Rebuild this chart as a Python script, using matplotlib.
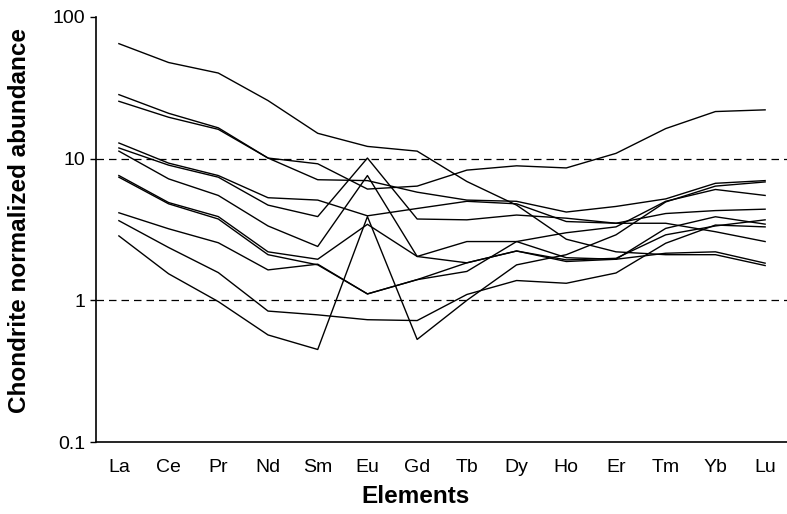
import numpy as np
import matplotlib
matplotlib.use("Agg")
import matplotlib.pyplot as plt

elements = ["La", "Ce", "Pr", "Nd", "Sm", "Eu", "Gd", "Tb", "Dy", "Ho", "Er", "Tm", "Yb", "Lu"]

# chondrite normalized REE patterns, one list per sample
s1 = [64.8, 47.7, 40.2, 25.7, 15.1, 12.2, 11.3, 6.9, 4.7, 2.7, 2.2, 2.1, 2.1, 1.76]
s2 = [28.3, 20.9, 16.5, 10.1, 9.2, 6.1, 6.4, 8.3, 8.9, 8.6, 10.9, 16.3, 21.5, 22.1]
s3 = [25.4, 19.6, 16.1, 10.1, 7.1, 7.0, 5.8, 5.1, 5.0, 4.2, 4.6, 5.2, 6.7, 7.0]
s4 = [12.9, 9.3, 7.6, 5.3, 5.1, 3.95, 4.45, 5.0, 4.8, 3.6, 3.5, 4.1, 4.3, 4.4]
s5 = [11.9, 9.0, 7.4, 4.7, 3.9, 10.1, 3.75, 3.7, 4.0, 3.8, 3.5, 3.5, 3.05, 2.6]
s6 = [11.3, 7.2, 5.5, 3.35, 2.4, 7.6, 2.04, 2.6, 2.6, 2.0, 1.95, 3.22, 3.89, 3.45]
s7 = [7.6, 4.9, 3.9, 2.2, 1.95, 3.44, 2.04, 1.84, 2.23, 1.93, 1.98, 2.9, 3.35, 3.7]
s8 = [7.4, 4.8, 3.75, 2.1, 1.78, 1.11, 1.4, 1.84, 2.23, 1.88, 1.95, 2.15, 2.2, 1.83]
s9 = [4.15, 3.2, 2.55, 1.64, 1.8, 1.11, 1.4, 1.6, 2.6, 3.0, 3.3, 5.0, 6.06, 5.5]
s10 = [3.65, 2.36, 1.57, 0.84, 0.79, 0.73, 0.72, 1.1, 1.38, 1.32, 1.56, 2.53, 3.4, 3.3]
s11 = [2.85, 1.54, 0.98, 0.57, 0.45, 3.9, 0.53, 1.0, 1.78, 2.1, 2.9, 4.95, 6.4, 6.85]

samples = [s1, s2, s3, s4, s5, s6, s7, s8, s9, s10, s11]

plt.rcParams['font.family'] = ['Liberation Sans', 'DejaVu Sans']

fig = plt.figure(figsize=(7.87, 5.14), dpi=100)
ax = fig.add_axes([0.122, 0.140, 0.878, 0.827])

x = np.arange(len(elements))
for s in samples:
    ax.plot(x, s, color='black', linewidth=1.0)

# reference lines
ax.axhline(10, color='black', linewidth=0.9, linestyle=(0, (6, 4)))
ax.axhline(1, color='black', linewidth=0.9, linestyle=(0, (6, 4)))

ax.set_yscale('log')
ax.set_ylim(0.1, 100)
ax.set_xlim(-0.46, 13.44)
ax.set_yticks([0.1, 1, 10, 100])
ax.set_yticklabels(["0.1", "1", "10", "100"], fontsize=14)
ax.yaxis.set_minor_locator(matplotlib.ticker.NullLocator())
ax.set_xticks(x)
ax.set_xticklabels(elements, fontsize=14)

ax.spines['top'].set_visible(False)
ax.spines['right'].set_visible(False)
ax.spines['left'].set_linewidth(1.2)
ax.spines['bottom'].set_linewidth(1.2)
ax.tick_params(axis='x', length=0, pad=12)
ax.tick_params(axis='y', length=4, width=1.0, pad=4)

ax.set_xlabel("Elements", fontsize=17.5, fontweight='bold')
ax.set_ylabel("Chondrite normalized abundance", fontsize=17.5, fontweight='bold')
ax.xaxis.set_label_coords(0.463, -0.100)
ax.yaxis.set_label_coords(-0.094, 0.522)

fig.savefig("out.png", dpi=100)
